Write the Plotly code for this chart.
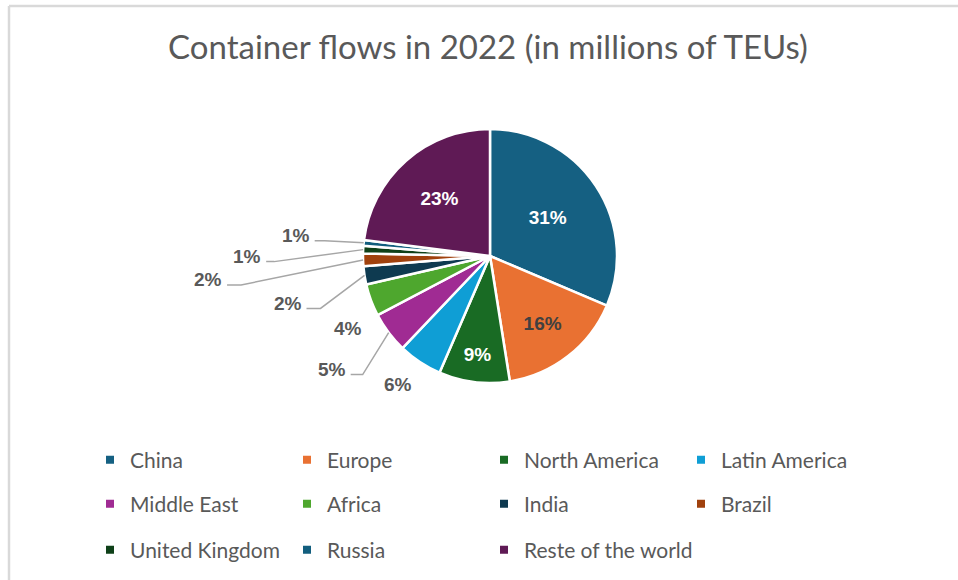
import math
import plotly.graph_objects as go

title = "Container flows in 2022 (in millions of TEUs)"
regions = ["China", "Europe", "North America", "Latin America", "Middle East",
           "Africa", "India", "Brazil", "United Kingdom", "Russia", "Reste of the world"]
share_pct = [31.4, 16.1, 9.0, 5.6, 5.2, 4.1, 2.3, 1.6, 1.0, 0.7, 23.0]

colors = ["#156082", "#E97132", "#196B24", "#0F9ED5", "#A02B93", "#4EA72E",
          "#0E3A50", "#A0410D", "#0E4018", "#125E7E", "#5F1A55"]

# ---- layout / style (pixels in the 958x580 page) ----
W, H = 958, 580
cx, cy, rad = 490, 256, 127
inside_white = {"China", "North America", "Reste of the world"}
inside_dark = {"Europe"}
# outside label placement: (label offset from slice edge dx, dy, draw leader, elbow length)
outside_style = {
    "Latin America": (-22, 23, False, 0),
    "Middle East": (-57, 37, True, 12),
    "Africa": (-23, 28, False, 0),
    "India": (-77, 28, True, 14),
    "Brazil": (-155, 20, True, 14),
    "United Kingdom": (-116, 7, True, 8),
    "Russia": (-68, -7, True, 10),
}
LABEL_HALF_W = 19
grey_text = "#595959"
font_lbl = "Liberation Sans, Arial, sans-serif"


def px(x):
    return x / W


def py(y):
    return 1 - y / H


textpos = ["inside" if (r in inside_white or r in inside_dark) else "none" for r in regions]
txtcol = ["white" if r in inside_white else "#404040" for r in regions]

fig = go.Figure()
fig.add_trace(go.Pie(
    labels=regions, values=share_pct, sort=False, direction="clockwise", rotation=0,
    marker=dict(colors=colors, line=dict(color="white", width=2.5)),
    textposition=textpos, texttemplate="%{percent:.0%}",
    textfont=dict(family=font_lbl, size=19, color=txtcol, weight="bold"),
    insidetextorientation="horizontal",
    domain=dict(x=[px(cx - rad), px(cx + rad)], y=[py(cy + rad), py(cy - rad)]),
    automargin=False, showlegend=False, hoverinfo="label+value+percent",
))

# outside labels with leader lines, anchored on the slice edges computed from the data
total = sum(share_pct)
cum = 0.0
shapes = [
    dict(type="line", xref="paper", yref="paper", x0=px(9), x1=1, y0=py(6), y1=py(6),
         line=dict(color="#D9D9D9", width=2.5)),
    dict(type="line", xref="paper", yref="paper", x0=px(9), x1=px(9), y0=0, y1=py(6),
         line=dict(color="#D9D9D9", width=2.5)),
]
annotations = []
for name, v in zip(regions, share_pct):
    mid = (cum + v / 2) / total * 2 * math.pi
    cum += v
    if name not in outside_style:
        continue
    dx, dy, leader, elbow = outside_style[name]
    ex = cx + rad * math.sin(mid)
    ey = cy - rad * math.cos(mid)
    lx, ly = ex + dx, ey + dy
    annotations.append(dict(
        x=px(lx), y=py(ly), xref="paper", yref="paper", showarrow=False,
        text=f"{round(v / total * 100)}%", xanchor="center", yanchor="middle",
        font=dict(family=font_lbl, size=19, color=grey_text, weight="bold")))
    if leader:
        sx, sy = lx + LABEL_HALF_W, ly + 5
        path = f"M {px(sx)},{py(sy)} L {px(sx + elbow)},{py(sy)} L {px(ex)},{py(ey)}"
        shapes.append(dict(type="path", xref="paper", yref="paper", path=path,
                           line=dict(color="#A6A6A6", width=1.5)))

# legend: rows of four entries, same colours as the slices
COLS, COL_W, LEG_X0 = 4, 197, 90
row_y = [460, 504, 550]


def legend_id(i):
    row, col = divmod(i, COLS)
    # last entry of the final row gets its own legend box so its text is not clipped
    if i == len(regions) - 1:
        return "legend4", row, col
    return ["legend", "legend2", "legend3"][row], row, col


legend_layout = {}
for i, (name, c) in enumerate(zip(regions, colors)):
    lid, row, col = legend_id(i)
    fig.add_trace(go.Scatter(
        x=[None], y=[None], mode="markers", name=name,
        marker=dict(symbol="square", size=8, color=c),
        legend=lid, showlegend=True, hoverinfo="skip"))
    if lid not in legend_layout:
        d = dict(orientation="h", x=px(LEG_X0 + col * COL_W), xanchor="left",
                 y=py(row_y[row]), yanchor="middle", itemwidth=30,
                 font=dict(family="Lato", size=21, color=grey_text),
                 bgcolor="rgba(0,0,0,0)", traceorder="normal")
        if lid != "legend4":
            d.update(entrywidth=COL_W - 45, entrywidthmode="pixels")
        legend_layout[lid] = d

fig.update_layout(
    width=W, height=H,
    margin=dict(l=0, r=0, t=0, b=0),
    paper_bgcolor="white", plot_bgcolor="white",
    xaxis=dict(visible=False), yaxis=dict(visible=False),
    title=dict(text=title, x=px(488), xanchor="center", y=py(47), yanchor="middle",
               font=dict(family="Lato", size=33, color=grey_text)),
    shapes=shapes,
    annotations=annotations,
    **legend_layout,
)
fig.write_html("out.html", config={"displayModeBar": False},
               post_script="document.body.style.margin='0';")
